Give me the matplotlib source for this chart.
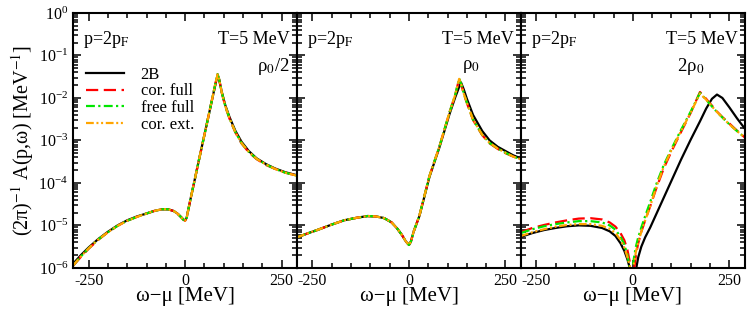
import numpy as np
import matplotlib.pyplot as plt
from matplotlib.ticker import MultipleLocator, LogLocator, NullFormatter

plt.rcParams['font.family'] = 'Liberation Serif'
plt.rcParams['mathtext.fontset'] = 'stix'
plt.rcParams['axes.unicode_minus'] = False

# --- data: log10 of (2pi)^-1 A(p,w) [MeV^-1] ---
# panel 1: rho0/2
x1 = [-290, -270, -250, -225, -200, -175, -150, -125, -100, -80, -60, -45, -30, -20, -10, -4, 0,
      4, 8, 14, 24, 37, 55, 72, 80, 84, 88, 95, 104, 115, 130, 146, 165, 185, 210, 233, 260, 290]
b1 = [-5.90, -5.70, -5.52, -5.32, -5.15, -5.00, -4.88, -4.79, -4.72, -4.66, -4.62, -4.62, -4.66,
      -4.72, -4.81, -4.87, -4.88, -4.82, -4.64, -4.38, -3.96, -3.41, -2.66, -1.95, -1.62, -1.47,
      -1.56, -1.86, -2.17, -2.45, -2.77, -3.03, -3.25, -3.42, -3.56, -3.66, -3.75, -3.82]
r1 = [-5.95, -5.74, -5.55, -5.34, -5.16, -5.01, -4.89, -4.80, -4.72, -4.66, -4.62, -4.62, -4.66,
      -4.72, -4.81, -4.87, -4.89, -4.82, -4.64, -4.38, -3.96, -3.41, -2.66, -1.94, -1.60, -1.44,
      -1.56, -1.88, -2.20, -2.49, -2.81, -3.07, -3.28, -3.44, -3.58, -3.67, -3.76, -3.83]
g1 = [-5.94, -5.73, -5.54, -5.33, -5.16, -5.01, -4.89, -4.80, -4.72, -4.66, -4.62, -4.62, -4.66,
      -4.72, -4.81, -4.87, -4.89, -4.82, -4.64, -4.38, -3.96, -3.41, -2.66, -1.94, -1.60, -1.44,
      -1.56, -1.87, -2.19, -2.48, -2.80, -3.06, -3.27, -3.43, -3.57, -3.67, -3.76, -3.83]
o1 = [-5.94, -5.73, -5.54, -5.33, -5.16, -5.01, -4.89, -4.80, -4.72, -4.66, -4.62, -4.62, -4.66,
      -4.72, -4.81, -4.87, -4.89, -4.82, -4.64, -4.38, -3.96, -3.41, -2.66, -1.94, -1.60, -1.45,
      -1.56, -1.87, -2.19, -2.48, -2.80, -3.06, -3.27, -3.43, -3.57, -3.67, -3.76, -3.83]

# panel 2: rho0
x2 = [-290, -260, -238, -200, -168, -135, -107, -85, -64, -45, -30, -18, -8, 0, 5, 12, 27, 53,
      79, 105, 120, 130, 135, 142, 150, 166, 190, 209, 230, 250, 270, 292]
b2 = [-5.28, -5.18, -5.11, -4.98, -4.88, -4.82, -4.78, -4.79, -4.83, -4.93, -5.08, -5.23, -5.38,
      -5.46, -5.38, -5.15, -4.78, -3.86, -3.16, -2.38, -1.98, -1.74, -1.64, -1.80, -2.02, -2.40,
      -2.78, -3.00, -3.15, -3.25, -3.35, -3.43]
r2 = [-5.28, -5.18, -5.11, -4.98, -4.88, -4.82, -4.78, -4.79, -4.83, -4.93, -5.08, -5.23, -5.38,
      -5.46, -5.38, -5.15, -4.77, -3.84, -3.14, -2.34, -1.92, -1.55, -1.68, -1.90, -2.12, -2.52,
      -2.88, -3.07, -3.20, -3.30, -3.38, -3.45]
g2 = [-5.28, -5.18, -5.11, -4.98, -4.88, -4.82, -4.78, -4.79, -4.83, -4.93, -5.08, -5.23, -5.38,
      -5.46, -5.38, -5.15, -4.77, -3.84, -3.14, -2.34, -1.92, -1.54, -1.67, -1.89, -2.11, -2.51,
      -2.87, -3.06, -3.19, -3.29, -3.38, -3.45]
o2 = [-5.28, -5.18, -5.11, -4.98, -4.88, -4.82, -4.78, -4.79, -4.83, -4.93, -5.08, -5.23, -5.38,
      -5.46, -5.38, -5.15, -4.77, -3.84, -3.14, -2.34, -1.92, -1.55, -1.68, -1.90, -2.11, -2.51,
      -2.87, -3.06, -3.19, -3.29, -3.38, -3.45]

# panel 3: 2 rho0
x3 = [-290, -260, -230, -200, -170, -140, -110, -80, -60, -45, -32, -22, -14, -8, -4, 0, 4, 8,
      14, 22, 32, 45, 60, 80, 100, 125, 150, 174, 190, 205, 218, 232, 250, 270, 290]
b3 = [-5.27, -5.18, -5.11, -5.06, -5.02, -5.00, -5.01, -5.06, -5.14, -5.25, -5.42, -5.60, -5.80,
      -6.00, -6.20, -6.50, -6.30, -6.05, -5.75, -5.50, -5.28, -5.05, -4.75, -4.35, -3.95, -3.45,
      -2.98, -2.55, -2.25, -2.02, -1.92, -2.00, -2.22, -2.48, -2.72]
r3 = [-5.16, -5.06, -4.99, -4.93, -4.88, -4.84, -4.83, -4.86, -4.93, -5.03, -5.18, -5.35, -5.58,
      -5.85, -6.10, -6.40, -6.00, -5.70, -5.42, -5.15, -4.88, -4.55, -4.15, -3.66, -3.26, -2.80,
      -2.35, -1.86, -2.02, -2.18, -2.32, -2.45, -2.60, -2.77, -2.93]
g3 = [-5.18, -5.09, -5.02, -4.97, -4.93, -4.90, -4.90, -4.93, -5.00, -5.10, -5.27, -5.45, -5.70,
      -6.00, -6.20, -5.95, -5.70, -5.50, -5.28, -5.05, -4.78, -4.45, -4.05, -3.58, -3.20, -2.75,
      -2.32, -1.88, -2.04, -2.20, -2.33, -2.46, -2.62, -2.78, -2.93]
o3 = [-5.25, -5.16, -5.09, -5.03, -4.99, -4.97, -4.97, -5.01, -5.08, -5.18, -5.34, -5.52, -5.75,
      -5.95, -6.10, -6.05, -5.85, -5.62, -5.40, -5.15, -4.88, -4.55, -4.12, -3.62, -3.23, -2.78,
      -2.34, -1.90, -2.04, -2.20, -2.33, -2.46, -2.62, -2.78, -2.93]

panels = [
    (x1, [b1, r1, g1, o1], 'ρ$_0$/2', 0.969),
    (x2, [b2, r2, g2, o2], 'ρ$_0$', 0.775),
    (x3, [b3, r3, g3, o3], '2ρ$_0$', 0.76),
]
labels = ['2B', 'cor. full', 'free full', 'cor. ext.']
colors = ['black', '#ff0000', '#00e600', '#ffa500']
dashes = [None, (5.5, 2.5), (4, 1.5, 1, 1.5), (3.5, 1.2, 0.9, 1.2, 0.9, 1.2)]

fig, axes = plt.subplots(1, 3, figsize=(7.47, 3.17), dpi=100, sharey=True)
fig.subplots_adjust(left=0.098, right=0.997, top=0.959, bottom=0.155, wspace=0)

for i, (ax, (xs, series, dens, dx)) in enumerate(zip(axes, panels)):
    for ys, lab, col, ds in zip(series, labels, colors, dashes):
        line, = ax.plot(xs, 10.0 ** np.array(ys), color=col, lw=1.6, label=lab)
        if ds is not None:
            line.set_dashes(ds)
    ax.set_yscale('log')
    ax.set_xlim(-290, 290)
    ax.set_ylim(1e-6, 1)
    ax.xaxis.set_major_locator(MultipleLocator(250))
    ax.xaxis.set_minor_locator(MultipleLocator(50))
    ax.yaxis.set_major_locator(LogLocator(base=10, numticks=10))
    ax.yaxis.set_minor_locator(LogLocator(base=10, subs=np.arange(2, 10), numticks=20))
    ax.yaxis.set_minor_formatter(NullFormatter())
    ax.tick_params(which='both', direction='in', top=True, right=True, labelsize=11.5, width=1.1)
    ax.tick_params(which='major', length=6)
    ax.tick_params(which='minor', length=3.5)
    for sp in ax.spines.values():
        sp.set_linewidth(1.5)
    ax.set_xlabel('ω−μ [MeV]', fontsize=15, labelpad=-1)
    ax.text(0.045, 0.895, r'p=2p$_\mathrm{F}$', transform=ax.transAxes, fontsize=13,
            ha='left', va='center')
    ax.text(0.969, 0.895, 'T=5 MeV', transform=ax.transAxes, fontsize=13,
            ha='right', va='center')
    ha = 'right' if i == 0 else 'center'
    ax.text(dx, 0.79, dens, transform=ax.transAxes, fontsize=13.5, ha=ha, va='center')

axes[0].set_ylabel(r'(2π)$^{-1}$ A(p,ω) [MeV$^{-1}$]', fontsize=14.5, labelpad=2)
axes[0].legend(loc='upper left', bbox_to_anchor=(0.055, 0.79), frameon=False, fontsize=12,
               handlelength=2.3, handletextpad=1.0, labelspacing=0.05, borderpad=0,
               borderaxespad=0)

plt.savefig('out.png', dpi=100)
